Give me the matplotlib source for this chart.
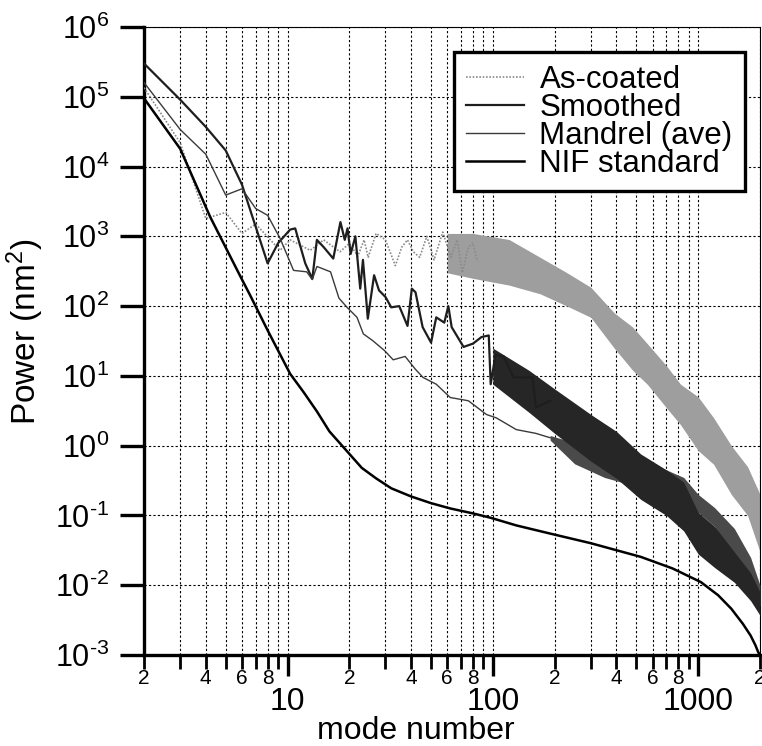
"""Surface power spectra of coated shells vs. the NIF standard."""

import matplotlib
matplotlib.use("Agg")
import matplotlib.pyplot as plt
from matplotlib.ticker import FixedLocator, FixedFormatter, FuncFormatter
import numpy as np

plt.rcParams["font.family"] = ["Liberation Sans", "DejaVu Sans"]
plt.rcParams["mathtext.default"] = "regular"

# --- values (mode number, power in nm^2) ---
nif_modes = [2, 3, 4.2, 5.9, 6.6, 8, 10.3, 12, 13.9, 16, 19.5, 23, 27, 32, 40, 50,
             62, 80, 97, 130, 190, 300, 525, 750, 1030, 1250, 1450, 1650, 1800,
             1900, 1960, 2000]
nif_power = [9.5e4, 1.8e4, 1.9e3, 265, 140, 45, 10.7, 5.8, 3.1, 1.6, 0.83, 0.48,
             0.34, 0.245, 0.187, 0.15, 0.126, 0.107, 0.093, 0.072, 0.055, 0.04,
             0.0255, 0.0174, 0.0111, 0.0072, 0.0046, 0.0028, 0.0019, 0.00138,
             0.0011, 0.001]

smooth_modes = [2, 3, 4, 5, 6, 8, 9, 10.3, 10.9, 12.2, 13.2, 13.9, 15, 16.7, 18.1,
                19, 19.6, 20.3, 21.4, 22.6, 23.3, 24.2, 24.6, 26.4, 27.9, 30, 32,
                35, 38.4, 40.3, 42, 45.5, 50, 53, 58, 60.7, 63, 72, 80, 88, 95.5,
                97.6, 103, 113, 126, 156, 162, 190]
smooth_power = [3.0e5, 9.1e4, 3.7e4, 1.7e4, 5.5e3, 410, 800, 1.25e3, 1.3e3, 410,
                245, 890, 700, 480, 1.6e3, 890, 1.3e3, 560, 1.0e3, 178, 460, 120,
                66, 277, 168, 135, 96, 100, 52, 178, 158, 50, 30, 69, 58, 100, 50,
                26, 29, 36, 38, 7.6, 20, 19, 9.5, 9.5, 3.5, 4.4]

mandrel_modes = [2, 3, 4, 5, 6, 7, 8, 9.2, 10.7, 12.4, 13.2, 13.9, 16.2, 17.8,
                 19.5, 21.8, 23.4, 26, 29.7, 32.7, 37.4, 41.8, 45.7, 53, 62, 76,
                 93, 104, 130, 162, 190]
mandrel_power = [1.6e5, 3.4e4, 1.5e4, 3.9e3, 4.8e3, 2.5e3, 2.0e3, 935, 325, 310,
                 240, 370, 310, 130, 96, 69, 40, 32, 23, 17, 19, 12.6, 9.5, 7.6,
                 4.9, 4.4, 2.8, 2.5, 1.7, 1.5, 1.3]

coated_modes = [2, 3, 4, 5, 6, 7, 9.2, 10.3, 12.9, 15, 18, 20, 22, 23.6, 24.7,
                27, 30, 33.5, 36, 38.4, 41, 44, 47.7, 51.7, 57, 62.5, 67, 71, 76,
                80, 84]
coated_power = [1.35e5, 2.2e4, 1.8e3, 2.2e3, 1.1e3, 1.5e3, 630, 890, 630, 890,
                600, 790, 520, 890, 500, 1.1e3, 890, 380, 700, 890, 600, 500,
                1.0e3, 460, 1.15e3, 500, 890, 300, 700, 800, 440]

# high-mode parts are dense noise bands: upper / lower envelopes
coated_band_modes = [60, 80, 120, 170, 230, 300, 390, 480, 565, 700, 820, 1000,
                     1190, 1450, 1740, 2000]
coated_band_hi = [1100, 1100, 900, 500, 300, 186, 80, 50, 29, 14, 7.6, 5, 2.5,
                  1.0, 0.5, 0.2]
coated_band_lo = [300, 250, 200, 150, 100, 69, 25, 12, 7.6, 3.5, 2.0, 0.85, 0.54,
                  0.2, 0.1, 0.03]

smooth_band_modes = [100, 150, 200, 300, 400, 525, 700, 850, 1000, 1200, 1500,
                     1800, 2000]
smooth_band_hi = [25, 12, 6.5, 2.8, 1.6, 0.76, 0.45, 0.3, 0.11, 0.07, 0.03, 0.015,
                  0.008]
smooth_band_lo = [7.6, 3.0, 1.5, 0.6, 0.34, 0.17, 0.1, 0.06, 0.028, 0.018, 0.011,
                  0.006, 0.0037]

mandrel_band_modes = [190, 250, 350, 525, 700, 850, 1000, 1200, 1500, 1800, 2000]
mandrel_band_hi = [1.4, 1.1, 0.8, 0.6, 0.45, 0.35, 0.2, 0.13, 0.065, 0.025, 0.01]
mandrel_band_lo = [1.2, 0.55, 0.35, 0.25, 0.18, 0.14, 0.11, 0.07, 0.024, 0.01,
                   0.005]

series_labels = ["As-coated", "Smoothed", "Mandrel (ave)", "NIF standard"]

fig = plt.figure(figsize=(7.62, 7.46), dpi=100)
ax = fig.add_axes([144 / 762, 1 - 655 / 746, 616 / 762, 628 / 746])
ax.set_xscale("log")
ax.set_yscale("log")
ax.set_xlim(2, 2000)
ax.set_ylim(1e-3, 1e6)

# bands first, lines on top
ax.fill_between(coated_band_modes, coated_band_lo, coated_band_hi,
                color="#9e9e9e", lw=0, zorder=2)
ax.fill_between(mandrel_band_modes, mandrel_band_lo, mandrel_band_hi,
                color="#4a4a4a", lw=0, zorder=3)
ax.fill_between(smooth_band_modes, smooth_band_lo, smooth_band_hi,
                color="#262626", lw=0, zorder=3)

h1, = ax.plot(coated_modes, coated_power, color="#8a8a8a", lw=1.2, ls=(0, (1, 1)),
              zorder=4)
h2, = ax.plot(smooth_modes, smooth_power, color="#1e1e1e", lw=1.6, zorder=5)
h3, = ax.plot(mandrel_modes, mandrel_power, color="#3a3a3a", lw=1.0, zorder=5)
h4, = ax.plot(nif_modes, nif_power, color="black", lw=1.8, zorder=6)

# grid: dotted lines at y decades and every x tick
grid_kw = dict(color="black", lw=0.8, ls=(0, (2, 2)), zorder=1)
ax.grid(True, which="major", axis="both", **grid_kw)
ax.grid(True, which="minor", axis="x", **grid_kw)
ax.grid(False, which="minor", axis="y")


def decade_label(val, pos):
    k = int(round(np.log10(val)))
    exp = str(k).replace("-", "\u2010")  # plain hyphen, as in the original
    return "$\\mathregular{10^{%s}}$" % exp


ax.set_yticks([10.0 ** k for k in range(-3, 7)])
ax.yaxis.set_major_formatter(FuncFormatter(decade_label))
ax.yaxis.set_minor_locator(FixedLocator([]))
ax.tick_params(axis="y", which="major", direction="out", length=17, width=2.4,
               labelsize=22, pad=8)

# x ticks: big decade labels, small 2/4/6/8 labels
ax.set_xticks([10, 100, 1000])
ax.set_xticklabels(["10", "100", "1000"])
minor_pos = [d * m for d in (1, 10, 100) for m in range(2, 10)] + [2000]
minor_lab = [str(m) if m in (2, 4, 6, 8) else "" for d in (1, 10, 100)
             for m in range(2, 10)] + ["2"]
ax.xaxis.set_minor_locator(FixedLocator(minor_pos))
ax.xaxis.set_minor_formatter(FixedFormatter(minor_lab))
ax.tick_params(axis="x", which="major", direction="out", length=15, width=2.4,
               labelsize=23, pad=8)
ax.tick_params(axis="x", which="minor", direction="out", length=10, width=2.0,
               labelsize=15, pad=0)

for side in ("left", "bottom"):
    ax.spines[side].set_linewidth(2.4)
for side in ("top", "right"):
    ax.spines[side].set_linewidth(0.8)

fig.text(416 / 762, 1 - 731 / 746, "mode number", fontsize=23,
         ha="center", va="center")
fig.text(25 / 762, 1 - 332 / 746, "Power (nm$^2$)", fontsize=24,
         ha="center", va="center", rotation=90)

leg = ax.legend([h1, h2, h3, h4], series_labels, loc="upper right",
                bbox_to_anchor=(0.976, 0.960), borderaxespad=0, fontsize=22.5,
                frameon=True, fancybox=False, framealpha=1, edgecolor="black",
                handlelength=1.85, handletextpad=0.5, labelspacing=-0.06,
                borderpad=0.4)
leg.get_frame().set_linewidth(2.4)
leg.set_zorder(10)

fig.savefig("out.png", dpi=100)
